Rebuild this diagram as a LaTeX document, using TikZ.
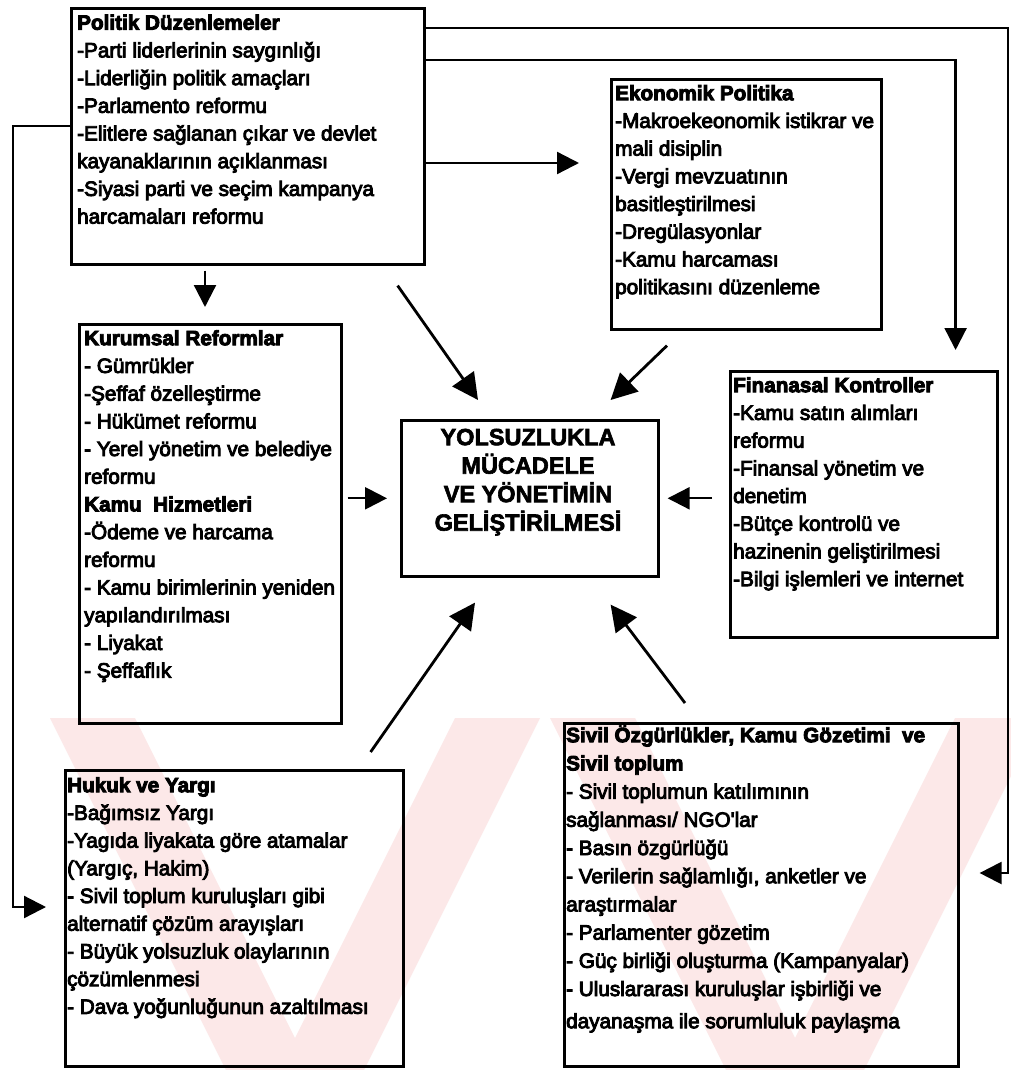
\documentclass[tikz,border=0pt]{standalone}
\usepackage{fontspec}
\setmainfont{Liberation Sans}
\newfontfamily\itemf{Liberation Sans}
\newfontfamily\headf{Liberation Sans Bold}
\usetikzlibrary{arrows.meta,calc}
\newcommand\firstln{\special{pdf:literal direct 2 Tr 0.9 w}\rule{0pt}{22pt}}
\definecolor{wmpink}{RGB}{252,232,232}
\tikzset{
  box/.style={draw, line width=2.6pt, inner sep=0pt, anchor=north west},
  txt/.style={anchor=north west, inner sep=0pt, align=left, font=\fontsize{20.7}{27.7}\selectfont\itemf},
  conn/.style={line width=2.3pt},
  arr/.style={conn, -{Triangle[length=22pt,width=22pt]}},
  bigarr/.style={line width=2.8pt, -{Triangle[length=26pt,width=26pt]}},
  wm/.style={fill=wmpink, draw=none},
}
\begin{document}
\begin{tikzpicture}[x=1pt,y=-1pt]
\useasboundingbox[fill=white] (0,0) rectangle (1011,1070);

% faint watermark
\begin{scope}
\clip (40,718) rectangle (1011,1070);
\fill[wm] (50,718) -- (135,718) -- (311,1070) -- (226,1070) -- cycle;
\fill[wm] (455,718) -- (540,718) -- (364,1070) -- (279,1070) -- cycle;
\fill[wm] (550,718) -- (635,718) -- (811,1070) -- (726,1070) -- cycle;
\fill[wm] (955,718) -- (1040,718) -- (864,1070) -- (779,1070) -- cycle;
\end{scope}

% boxes
\node[box, minimum width=353pt, minimum height=256pt] (pol) at (70,7) {};
\node[box, minimum width=270pt, minimum height=250pt] (eko) at (610,78) {};
\node[box, minimum width=262pt, minimum height=399pt] (kur) at (78,323) {};
\node[box, minimum width=257pt, minimum height=156pt] (cen) at (400,419) {};
\node[box, minimum width=267pt, minimum height=266pt] (fin) at (729,370) {};
\node[box, minimum width=338pt, minimum height=296pt] (huk) at (64,769) {};
\node[box, minimum width=394pt, minimum height=343pt] (siv) at (563,722) {};

% texts
\node[txt] (polt) at (77,7.5) {\firstln{\headf Politik Düzenlemeler}\\
-Parti liderlerinin saygınlığı\\
-Liderliğin politik amaçları\\
-Parlamento reformu\\
-Elitlere sağlanan çıkar ve devlet\\
kayanaklarının açıklanması\\
-Siyasi parti ve seçim kampanya\\
harcamaları reformu};

\node[txt] (ekot) at (615,78) {\firstln{\headf Ekonomik Politika}\\
-Makroekeonomik istikrar ve\\
mali disiplin\\
-Vergi mevzuatının\\
basitleştirilmesi\\
-Dregülasyonlar\\
-Kamu harcaması\\
politikasını düzenleme};

\node[txt] (kurt) at (84,323) {\firstln{\headf Kurumsal Reformlar}\\
- Gümrükler\\
-Şeffaf özelleştirme\\
- Hükümet reformu\\
- Yerel yönetim ve belediye\\
reformu\\
{\headf Kamu\ \ Hizmetleri}\\
-Ödeme ve harcama\\
reformu\\
- Kamu birimlerinin yeniden\\
yapılandırılması\\
- Liyakat\\
- Şeffaflık};

\node[anchor=north, inner sep=0pt, align=center, font=\fontsize{23.5}{28.5}\selectfont\headf] (cent) at (528,421) {\special{pdf:literal direct 2 Tr 0.6 w}\rule{0pt}{24pt}YOLSUZLUKLA\\
MÜCADELE\\
VE YÖNETİMİN\\
GELİŞTİRİLMESİ};

\node[txt] (fint) at (733,370) {\firstln{\headf Finanasal Kontroller}\\
-Kamu satın alımları\\
reformu\\
-Finansal yönetim ve\\
denetim\\
-Bütçe kontrolü ve\\
hazinenin geliştirilmesi\\
-Bilgi işlemleri ve internet};

\node[txt] (hukt) at (67,770) {\firstln{\headf Hukuk ve Yargı}\\
-Bağımsız Yargı\\
-Yagıda liyakata göre atamalar\\
(Yargıç, Hakim)\\
- Sivil toplum kuruluşları gibi\\
alternatif çözüm arayışları\\
- Büyük yolsuzluk olaylarının\\
çözümlenmesi\\
- Dava yoğunluğunun azaltılması};

\node[txt, font=\fontsize{20.7}{28.2}\selectfont\itemf] (sivt) at (566,720) {\firstln{\headf Sivil Özgürlükler, Kamu Gözetimi\ \ ve}\\
{\headf Sivil toplum}\\
- Sivil toplumun katılımının\\
sağlanması/ NGO'lar\\
- Basın özgürlüğü\\
- Verilerin sağlamlığı, anketler ve\\
araştırmalar\\
- Parlamenter gözetim\\
- Güç birliği oluşturma (Kampanyalar)\\
- Uluslararası kuruluşlar işbirliği ve\\[4pt]
dayanaşma ile sorumluluk paylaşma};

% connectors
\coordinate (r4) at (1008,873);
\coordinate (l5) at (13,907);
\draw[arr] ([xshift=135pt,yshift=-5pt]pol.south west) -- ([xshift=127pt,yshift=16pt]kur.north west);
\draw[arr] ([yshift=-156pt]pol.north east) coordinate (a2) -- ([xshift=-31pt]a2 -| eko.west);
\draw[arr] ([yshift=-53pt]pol.north east) -| ([xshift=-43pt,yshift=20pt]fin.north east);
\draw[arr] ([yshift=-21pt]pol.north east) -| (r4) -- ([xshift=20pt]siv.east |- r4);
\draw[arr] ([yshift=-119pt]pol.north west) -| (l5) -- ([xshift=-18pt]huk.west |- l5);

\draw[bigarr] ([xshift=-28pt,yshift=-20pt]pol.south east) -- ([xshift=78pt,yshift=19pt]cen.north west);
\draw[bigarr] ([xshift=57pt,yshift=-15pt]eko.south west) -- ([xshift=-49pt,yshift=19pt]cen.north east);
\draw[arr] ([xshift=5pt]kur.east |- cen.west) -- ([xshift=-13pt]cen.west);
\draw[arr] ([xshift=-17pt]fin.west |- cen.east) -- ([xshift=8pt]cen.east);
\draw[bigarr] ([xshift=-34pt,yshift=17pt]huk.north east) -- ([xshift=75pt,yshift=-25pt]cen.south west);
\draw[bigarr] ([xshift=122pt,yshift=19pt]siv.north west) -- ([xshift=-49pt,yshift=-27pt]cen.south east);
\end{tikzpicture}
\end{document}
